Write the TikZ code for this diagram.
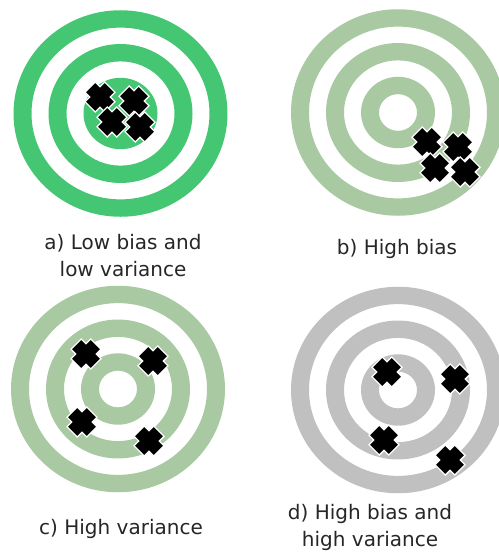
\documentclass[tikz,border=0pt]{standalone}
\usepackage{fontspec}
\setmainfont{DejaVu Sans}
\definecolor{brightgreen}{HTML}{45C673}
\definecolor{palegreen}{HTML}{A9C9A2}
\definecolor{ringgray}{HTML}{C0C0C0}
\tikzset{
  xcross/.pic={
    \fill[black,draw=white,line width=1.3pt,rotate=45]
      (7.3pt,14pt)--(7.3pt,7.3pt)--(14pt,7.3pt)--(14pt,-7.3pt)--(7.3pt,-7.3pt)--(7.3pt,-14pt)
      --(-7.3pt,-14pt)--(-7.3pt,-7.3pt)--(-14pt,-7.3pt)--(-14pt,7.3pt)--(-7.3pt,7.3pt)--(-7.3pt,14pt)--cycle;
  },
  lbl/.style={font=\fontsize{20pt}{27pt}\selectfont, align=center, anchor=base, text=black!85}
}
\newcommand\ringpair[4]{% center, outer, inner, colour
  \fill[#4,even odd rule] #1 ellipse[x radius=#2pt,y radius=0.965*#2pt] #1 ellipse[x radius=#3pt,y radius=0.965*#3pt];}
\begin{document}
\begin{tikzpicture}[x=1pt,y=-1pt]
\useasboundingbox (0,0) rectangle (498,554);
% a
\coordinate (ca) at (120.5,113.5);
\ringpair{(ca)}{107}{89}{brightgreen}
\ringpair{(ca)}{72}{54}{brightgreen}
\fill[brightgreen] (ca) ellipse[x radius=37pt,y radius=0.965*37pt];
\pic at (100,97) {xcross};
\pic at (134,101) {xcross};
\pic at (112,122) {xcross};
\pic at (140,127) {xcross};
% b
\coordinate (cb) at (398,112.5);
\ringpair{(cb)}{107}{89}{palegreen}
\ringpair{(cb)}{72}{54}{palegreen}
\ringpair{(cb)}{37}{19}{palegreen}
\pic at (427,142) {xcross};
\pic at (458,147) {xcross};
\pic at (435,168) {xcross};
\pic at (465,172) {xcross};
% c
\coordinate (cc) at (118,389);
\ringpair{(cc)}{107}{89}{palegreen}
\ringpair{(cc)}{72}{54}{palegreen}
\ringpair{(cc)}{37}{19}{palegreen}
\pic at (86,354) {xcross};
\pic at (153,361) {xcross};
\pic at (82,422) {xcross};
\pic at (149,441) {xcross};
% d
\coordinate (cd) at (398,390);
\ringpair{(cd)}{107}{89}{ringgray}
\ringpair{(cd)}{72}{54}{ringgray}
\ringpair{(cd)}{37}{19}{ringgray}
\pic at (387,372) {xcross};
\pic at (455,379) {xcross};
\pic at (384,440) {xcross};
\pic at (450,460) {xcross};
% labels
\node[lbl] (la) at (123,276) {a) Low bias and\\low variance};
\node[lbl] (lb) at (397,254) {b) High bias};
\node[lbl] (lc) at (121,534) {c) High variance};
\node[lbl] (ld) at (370,546) {d) High bias and\\high variance};
\end{tikzpicture}
\end{document}
